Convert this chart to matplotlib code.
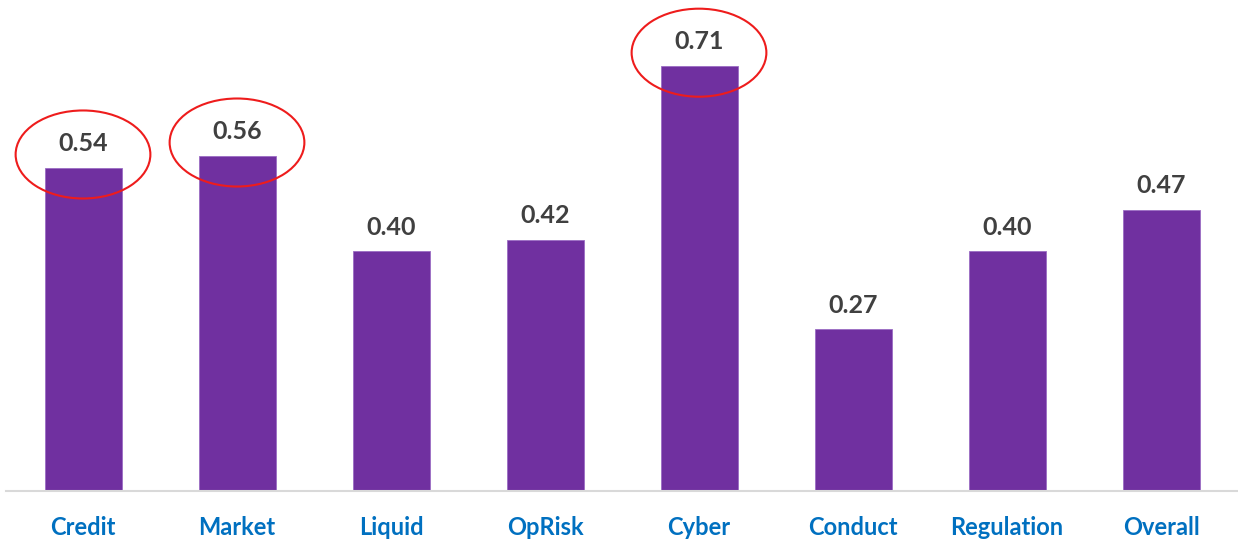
import matplotlib.pyplot as plt
from matplotlib.patches import Ellipse

categories = ["Credit", "Market", "Liquid", "OpRisk", "Cyber", "Conduct", "Regulation", "Overall"]
scores = [0.54, 0.56, 0.40, 0.42, 0.71, 0.27, 0.40, 0.47]
circled = ["Credit", "Market", "Cyber"]

plt.rcParams['font.family'] = ['Lato', 'DejaVu Sans']

fig = plt.figure(figsize=(12.38, 5.4), dpi=100)
ax = fig.add_axes([6 / 1238, 49 / 540, 1 - 6 / 1238, 491 / 540])

x = list(range(len(categories)))
ax.bar(x, scores, width=0.5, color="#7030A0", edgecolor="#9b6cc4", linewidth=0.6)

for xi, v in zip(x, scores):
    ax.annotate(f"{v:.2f}", (xi, v), xytext=(0, 9), textcoords="offset points",
                ha="center", va="bottom", fontsize=18, fontweight="bold", color="#404040")

# red rings around the highlighted scores
for name in circled:
    i = categories.index(name)
    ax.add_patch(Ellipse((i, scores[i] + 0.022), 0.875, 0.147, fill=False,
                         edgecolor="#ee1c1c", linewidth=1.5, clip_on=False))

ax.set_xlim(-0.5, len(categories) - 0.5)
ax.set_ylim(0, 0.82)
ax.set_xticks(x)
ax.set_xticklabels(categories, fontsize=17, fontweight="bold", color="#0070C0")
ax.tick_params(axis="x", length=0, pad=18)
ax.set_yticks([])
for side in ["top", "right", "left"]:
    ax.spines[side].set_visible(False)
ax.spines["bottom"].set_color("#d9d9d9")
ax.spines["bottom"].set_linewidth(1.5)

fig.savefig("out.png", dpi=100)
